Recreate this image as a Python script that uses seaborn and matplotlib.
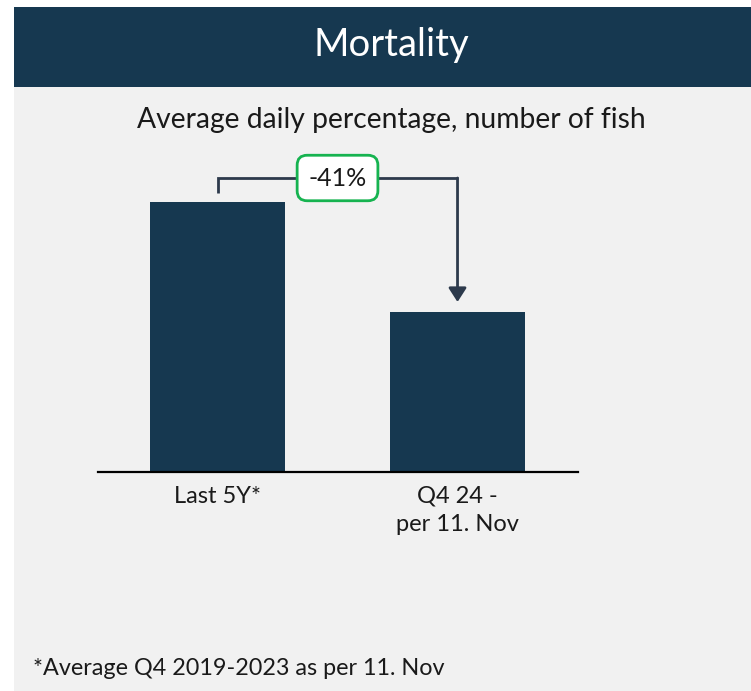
import matplotlib

matplotlib.use("Agg")

import matplotlib.pyplot as plt
import seaborn as sns
from matplotlib.patches import Rectangle

CATEGORIES = ["Last 5Y*", "Q4 24 -\nper 11. Nov"]
VALUES = [0.270, 0.160]

TITLE = "Mortality"
SUBTITLE = "Average daily percentage, number of fish"
FOOTNOTE = "*Average Q4 2019-2023 as per 11. Nov"

NAVY = "#163850"
PANEL = "#f1f1f1"
LINE = "#2d3a4c"
GREEN = "#16b350"
TEXT = "#1a1a1a"

W, H = 751, 691

sns.set_theme(style="white")
plt.rcParams["font.family"] = ["Lato", "DejaVu Sans"]

fig = plt.figure(figsize=(W / 100, H / 100), dpi=100, facecolor="white")

# header banner and grey panel
fig.patches.append(Rectangle((14 / W, 0), 1 - 14 / W, 604 / H, transform=fig.transFigure,
                             facecolor=PANEL, edgecolor="none", zorder=-2))
fig.patches.append(Rectangle((14 / W, 604 / H), 1 - 14 / W, 80 / H, transform=fig.transFigure,
                             facecolor=NAVY, edgecolor="none", zorder=-2))

fig.text(391 / W, (H - 56) / H, TITLE, color="white", fontsize=27.5,
         ha="center", va="baseline")
fig.text(391 / W, (H - 128) / H, SUBTITLE, color=TEXT, fontsize=20.3,
         ha="center", va="baseline")
fig.text(33 / W, (H - 675) / H, FOOTNOTE, color=TEXT, fontsize=16.8,
         ha="left", va="baseline")

ax = fig.add_axes([98 / W, 219 / H, 480 / W, 322 / H])
ax.set_zorder(2)
ax.patch.set_alpha(0)
sns.barplot(x=CATEGORIES, y=VALUES, color=NAVY, saturation=1, width=0.5625,
            linewidth=0, ax=ax)
ax.set_xlim(-0.498, 1.502)
ax.set_ylim(0, 0.322)
for side in ["top", "right", "left"]:
    ax.spines[side].set_visible(False)
ax.spines["bottom"].set_color("black")
ax.spines["bottom"].set_linewidth(1.6)
ax.set_yticks([])
ax.tick_params(axis="x", length=0, pad=10, labelsize=17, labelcolor=TEXT)
for lbl in ax.get_xticklabels():
    lbl.set_linespacing(1.4)
ax.set_xlabel("")
ax.set_ylabel("")

# change bracket
y_top = VALUES[0] + 0.024
y_start = VALUES[0] + 0.009
y_tip = VALUES[1] + 0.010
ax.plot([0, 0, 1], [y_start, y_top, y_top], color=LINE, lw=2, solid_capstyle="butt",
        solid_joinstyle="miter", clip_on=False)
ax.annotate("", xy=(1, y_tip), xytext=(1, y_top),
            arrowprops=dict(arrowstyle="-|>,head_length=0.7,head_width=0.45", color=LINE,
                            lw=2, shrinkA=0, shrinkB=0, mutation_scale=12),
            annotation_clip=False)
change = (VALUES[1] / VALUES[0] - 1) * 100
ax.text(0.5, y_top, f"{change:.0f}%", fontsize=18, color=TEXT,
        ha="center", va="center",
        bbox=dict(boxstyle="round,pad=0.45,rounding_size=0.4", facecolor="white",
                  edgecolor=GREEN, linewidth=2))

fig.savefig("out.png", dpi=100, facecolor="white")
